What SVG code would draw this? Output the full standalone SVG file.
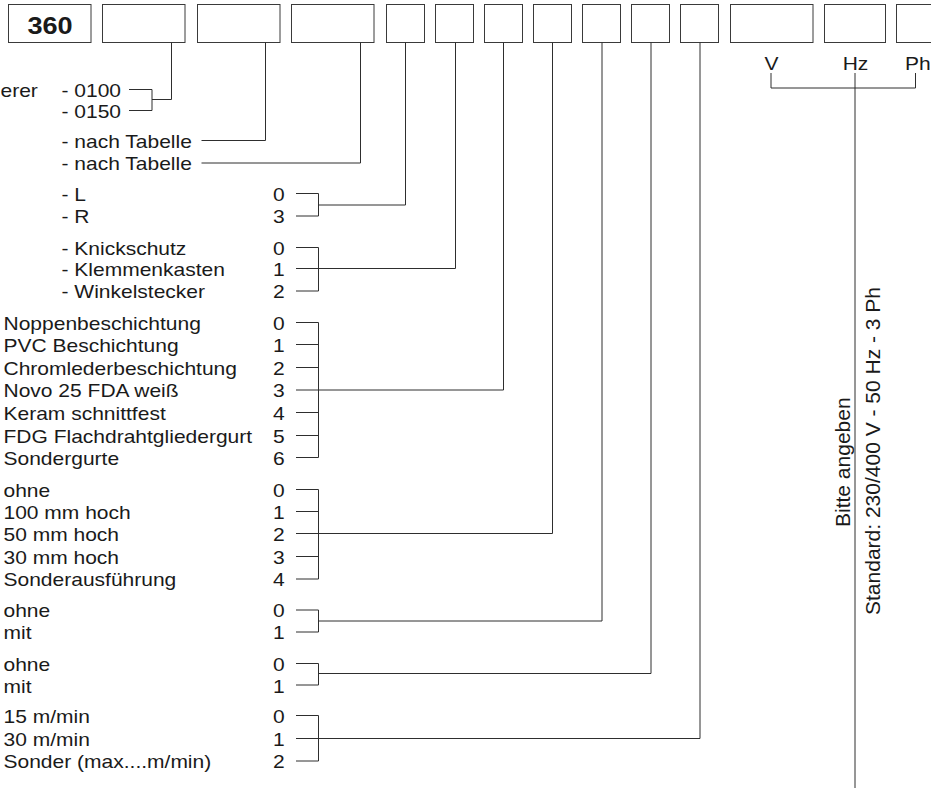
<svg xmlns="http://www.w3.org/2000/svg" width="931" height="789" viewBox="0 0 931 789">
<style>
.bg{fill:#ffffff}
.box{fill:#ffffff;stroke:#3a3a3a;stroke-width:1}
.t{font-family:"Liberation Sans",Arial,Helvetica,sans-serif;font-size:18.6px;fill:#1a1a1a}
.v{font-family:"Liberation Sans",Arial,Helvetica,sans-serif;font-size:21px;fill:#1a1a1a}
.b{font-family:"Liberation Sans",Arial,Helvetica,sans-serif;font-size:24px;font-weight:bold;fill:#1a1a1a;text-anchor:middle}
.m{text-anchor:middle}
.ln{fill:none;stroke:#2e2e2e;stroke-width:1}
</style>
<rect class="bg" x="0" y="0" width="931" height="789"/>

<g id="boxes">
  <g id="box1"><rect class="box" x="8.5" y="4.5" width="82.5" height="38"/><text class="b" transform="translate(50,34) scale(1.13,1)">360</text></g>
  <g id="box2"><rect class="box" x="102.5" y="4.5" width="82.5" height="38"/></g>
  <g id="box3"><rect class="box" x="197.5" y="4.5" width="82.5" height="38"/></g>
  <g id="box4"><rect class="box" x="291.5" y="4.5" width="82.5" height="38"/></g>
  <g id="box5"><rect class="box" x="386.5" y="4.5" width="38" height="38"/></g>
  <g id="box6"><rect class="box" x="435.5" y="4.5" width="38" height="38"/></g>
  <g id="box7"><rect class="box" x="484.5" y="4.5" width="38" height="38"/></g>
  <g id="box8"><rect class="box" x="533.5" y="4.5" width="38" height="38"/></g>
  <g id="box9"><rect class="box" x="582.5" y="4.5" width="38" height="38"/></g>
  <g id="box10"><rect class="box" x="631.5" y="4.5" width="38" height="38"/></g>
  <g id="box11"><rect class="box" x="680.5" y="4.5" width="38" height="38"/></g>
  <g id="box12"><rect class="box" x="730.5" y="4.5" width="82.5" height="38"/></g>
  <g id="box13"><rect class="box" x="824.5" y="4.5" width="61" height="38"/></g>
  <g id="box14"><rect class="box" x="896.5" y="4.5" width="60" height="38"/></g>
</g>

<g id="connectors">
  <path class="ln" d="M129,89.5 H152 M129,110.5 H152 M152,89.5 V110.5 M152,99.5 H171.5 V42.5"/>
  <path class="ln" d="M201.5,140.5 H265.5 V42.5"/>
  <path class="ln" d="M201.5,163 H360.5 V42.5"/>
  <path class="ln" d="M296,193.5 H318.5 M296,216 H318.5 M318.5,193.5 V216 M318.5,205 H405.5 V42.5"/>
  <path class="ln" d="M296,247.5 H318.5 M296,291 H318.5 M318.5,247.5 V291 M296,268.5 H455.5 V42.5"/>
  <path class="ln" d="M296,322.5 H318.5 M296,344.5 H318.5 M296,367.5 H318.5 M296,412.5 H318.5 M296,435.5 H318.5 M296,457.5 H318.5 M318.5,322.5 V457.5 M296,390 H503.5 V42.5"/>
  <path class="ln" d="M296,489.5 H318.5 M296,511.5 H318.5 M296,556.5 H318.5 M296,579 H318.5 M318.5,489.5 V579 M296,533.5 H552.5 V42.5"/>
  <path class="ln" d="M296,610 H318.5 M296,632 H318.5 M318.5,610 V632 M318.5,621 H602 V42.5"/>
  <path class="ln" d="M296,663.5 H318.5 M296,685 H318.5 M318.5,663.5 V685 M318.5,673.5 H651 V42.5"/>
  <path class="ln" d="M296,715.5 H318.5 M296,761 H318.5 M318.5,715.5 V761 M296,738.5 H700 V42.5"/>
  <path class="ln" d="M771,73 V88 H915.5 V73 M855,73 V788"/>
</g>

<g id="opt-type">
  <text class="t" transform="translate(0.5,96.7) scale(1.13,1)">erer</text>
  <text class="t" transform="translate(61.5,96.7) scale(1.13,1)">- 0100</text>
  <text class="t" transform="translate(61.5,117.7) scale(1.13,1)">- 0150</text>
</g>
<g id="opt-table1">
  <text class="t" transform="translate(61.5,148) scale(1.13,1)">- nach Tabelle</text>
</g>
<g id="opt-table2">
  <text class="t" transform="translate(61.5,170.3) scale(1.13,1)">- nach Tabelle</text>
</g>
<g id="opt-side">
  <text class="t" transform="translate(61.5,201) scale(1.13,1)">- L</text>
  <text class="t" transform="translate(61.5,223.3) scale(1.13,1)">- R</text>
  <text class="t" transform="translate(273,201) scale(1.13,1)">0</text>
  <text class="t" transform="translate(273,223.3) scale(1.13,1)">3</text>
</g>
<g id="opt-connection">
  <text class="t" transform="translate(61.5,254.6) scale(1.13,1)">- Knickschutz</text>
  <text class="t" transform="translate(61.5,275.8) scale(1.13,1)">- Klemmenkasten</text>
  <text class="t" transform="translate(61.5,298.3) scale(1.13,1)">- Winkelstecker</text>
  <text class="t" transform="translate(273,254.6) scale(1.13,1)">0</text>
  <text class="t" transform="translate(273,275.8) scale(1.13,1)">1</text>
  <text class="t" transform="translate(273,298.3) scale(1.13,1)">2</text>
</g>
<g id="opt-belt">
  <text class="t" transform="translate(3.5,329.5) scale(1.13,1)">Noppenbeschichtung</text>
  <text class="t" transform="translate(3.5,352) scale(1.13,1)">PVC Beschichtung</text>
  <text class="t" transform="translate(3.5,374.6) scale(1.13,1)">Chromlederbeschichtung</text>
  <text class="t" transform="translate(3.5,397.3) scale(1.13,1)">Novo 25 FDA weiß</text>
  <text class="t" transform="translate(3.5,420) scale(1.13,1)">Keram schnittfest</text>
  <text class="t" transform="translate(3.5,442.7) scale(1.13,1)">FDG Flachdrahtgliedergurt</text>
  <text class="t" transform="translate(3.5,465) scale(1.13,1)">Sondergurte</text>
  <text class="t" transform="translate(273,329.5) scale(1.13,1)">0</text>
  <text class="t" transform="translate(273,352) scale(1.13,1)">1</text>
  <text class="t" transform="translate(273,374.6) scale(1.13,1)">2</text>
  <text class="t" transform="translate(273,397.3) scale(1.13,1)">3</text>
  <text class="t" transform="translate(273,420) scale(1.13,1)">4</text>
  <text class="t" transform="translate(273,442.7) scale(1.13,1)">5</text>
  <text class="t" transform="translate(273,465) scale(1.13,1)">6</text>
</g>
<g id="opt-height">
  <text class="t" transform="translate(3.5,496.6) scale(1.13,1)">ohne</text>
  <text class="t" transform="translate(3.5,518.8) scale(1.13,1)">100 mm hoch</text>
  <text class="t" transform="translate(3.5,541.2) scale(1.13,1)">50 mm hoch</text>
  <text class="t" transform="translate(3.5,563.6) scale(1.13,1)">30 mm hoch</text>
  <text class="t" transform="translate(3.5,586.2) scale(1.13,1)">Sonderausführung</text>
  <text class="t" transform="translate(273,496.6) scale(1.13,1)">0</text>
  <text class="t" transform="translate(273,518.8) scale(1.13,1)">1</text>
  <text class="t" transform="translate(273,541.2) scale(1.13,1)">2</text>
  <text class="t" transform="translate(273,563.6) scale(1.13,1)">3</text>
  <text class="t" transform="translate(273,586.2) scale(1.13,1)">4</text>
</g>
<g id="opt-a">
  <text class="t" transform="translate(3.5,617.3) scale(1.13,1)">ohne</text>
  <text class="t" transform="translate(3.5,639.2) scale(1.13,1)">mit</text>
  <text class="t" transform="translate(273,617.3) scale(1.13,1)">0</text>
  <text class="t" transform="translate(273,639.2) scale(1.13,1)">1</text>
</g>
<g id="opt-b">
  <text class="t" transform="translate(3.5,670.6) scale(1.13,1)">ohne</text>
  <text class="t" transform="translate(3.5,692.5) scale(1.13,1)">mit</text>
  <text class="t" transform="translate(273,670.6) scale(1.13,1)">0</text>
  <text class="t" transform="translate(273,692.5) scale(1.13,1)">1</text>
</g>
<g id="opt-speed">
  <text class="t" transform="translate(3.5,723) scale(1.13,1)">15 m/min</text>
  <text class="t" transform="translate(3.5,745.6) scale(1.13,1)">30 m/min</text>
  <text class="t" transform="translate(3.5,768.3) scale(1.13,1)">Sonder (max....m/min)</text>
  <text class="t" transform="translate(273,723) scale(1.13,1)">0</text>
  <text class="t" transform="translate(273,745.6) scale(1.13,1)">1</text>
  <text class="t" transform="translate(273,768.3) scale(1.13,1)">2</text>
</g>
<g id="opt-power">
  <text class="t m" transform="translate(771.5,70) scale(1.13,1)">V</text>
  <text class="t m" transform="translate(855.5,70) scale(1.13,1)">Hz</text>
  <text class="t" transform="translate(905,70) scale(1.13,1)">Ph</text>
  <text class="v" transform="translate(849.5,527) rotate(-90)">Bitte angeben</text>
  <text class="v" transform="translate(880,615) rotate(-90)">Standard: 230/400 V - 50 Hz - 3 Ph</text>
</g>
</svg>
